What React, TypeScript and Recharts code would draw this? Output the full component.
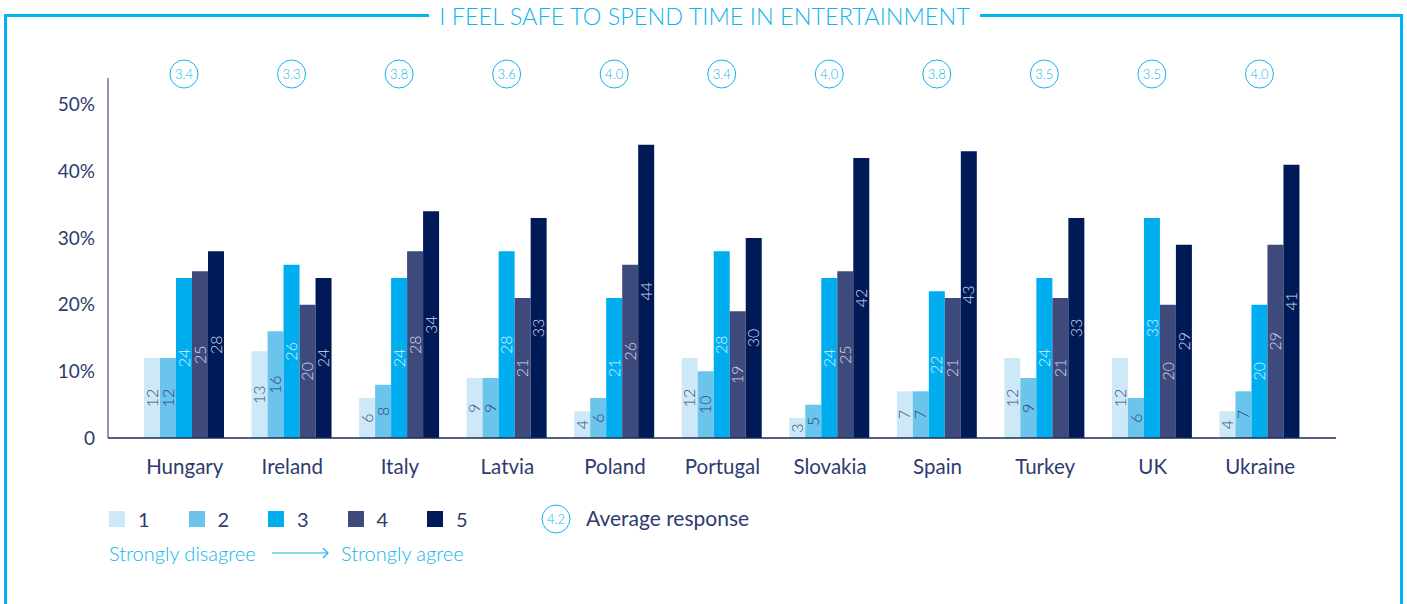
import React from 'react';
import { BarChart, Bar, XAxis, YAxis, LabelList } from 'recharts';

const countries = ['Hungary', 'Ireland', 'Italy', 'Latvia', 'Poland', 'Portugal', 'Slovakia', 'Spain', 'Turkey', 'UK', 'Ukraine'];
const r1 = [12, 13, 6, 9, 4, 12, 3, 7, 12, 12, 4];
const r2 = [12, 16, 8, 9, 6, 10, 5, 7, 9, 6, 7];
const r3 = [24, 26, 24, 28, 21, 28, 24, 22, 24, 33, 20];
const r4 = [25, 20, 28, 21, 26, 19, 25, 21, 21, 20, 29];
const r5 = [28, 24, 34, 33, 44, 30, 42, 43, 33, 29, 41];
const averages = [3.4, 3.3, 3.8, 3.6, 4.0, 3.4, 4.0, 3.8, 3.5, 3.5, 4.0];
const yTicks = [0, 10, 20, 30, 40, 50];

const SERIES = [
  { key: 'r1', name: '1', color: '#cde9f7', label: '#3f4a7c' },
  { key: 'r2', name: '2', color: '#6bc4ec', label: '#2f3f72' },
  { key: 'r3', name: '3', color: '#00aeef', label: '#d6f2ff' },
  { key: 'r4', name: '4', color: '#3f4a7c', label: '#d3d7e8' },
  { key: 'r5', name: '5', color: '#001a57', label: '#d3d9ec' },
];

const CYAN = '#10b4ec';
const NAVY = '#2e3b6e';
const FONT = 'Lato, "Open Sans", sans-serif';

const data = countries.map((c, i) => ({
  country: c,
  r1: r1[i],
  r2: r2[i],
  r3: r3[i],
  r4: r4[i],
  r5: r5[i],
  avg: averages[i],
}));

const AvgBubble = (props: any) => {
  const { x, width, value } = props;
  const cx = x + width / 2;
  return (
    <g>
      <circle cx={cx} cy={74} r={14} fill="none" stroke={CYAN} strokeWidth={1} />
      <text x={cx} y={74} dy="0.35em" textAnchor="middle" fill={CYAN} fontSize={13} fontFamily={FONT} fontWeight={300}>
        {Number(value).toFixed(1)}
      </text>
    </g>
  );
};

const line = (style: React.CSSProperties) => (
  <div style={{ position: 'absolute', background: '#00b4f0', ...style }} />
);

export default function App() {
  return (
    <div style={{ position: 'absolute', left: 0, top: 0, width: 1407, height: 604, background: '#fff', fontFamily: FONT, overflow: 'hidden' }}>
      {line({ left: 4, top: 14, width: 425, height: 3 })}
      {line({ left: 980, top: 14, width: 423, height: 3 })}
      {line({ left: 4, top: 14, width: 3, height: 590 })}
      {line({ left: 1400, top: 14, width: 3, height: 590 })}
      <div style={{ position: 'absolute', left: 429, width: 551, top: 1, textAlign: 'center', color: CYAN, fontSize: 23.5, fontWeight: 300, lineHeight: '30px' }}>
        I FEEL SAFE TO SPEND TIME IN ENTERTAINMENT
      </div>

      <div style={{ position: 'absolute', left: 0, top: 0 }}>
        <BarChart width={1407} height={604} data={data} margin={{ top: 78, right: 71, bottom: 0, left: 0 }} barCategoryGap={13} barGap={0}>
          <YAxis
            type="number"
            domain={[0, 54]}
            ticks={yTicks}
            width={108}
            tickSize={0}
            tickMargin={13}
            axisLine={{ stroke: '#6b7399', strokeWidth: 1.5 }}
            tickLine={false}
            tickFormatter={(v: number) => (v === 0 ? '0' : `${v}%`)}
            tick={{ fill: NAVY, fontSize: 19, fontFamily: FONT }}
          />
          <XAxis
            dataKey="country"
            height={166}
            tickSize={0}
            tickMargin={21}
            tickLine={false}
            padding={{ left: 23, right: 22 }}
            axisLine={{ stroke: '#1b2a5e', strokeWidth: 1.5 }}
            tick={{ fill: NAVY, fontSize: 20.5, fontFamily: FONT }}
            interval={0}
          />
          {SERIES.map((s) => (
            <Bar key={s.key} dataKey={s.key} fill={s.color} isAnimationActive={false}>
              <LabelList
                dataKey={s.key}
                position="center"
                angle={-90}
                fill={s.label}
                fontSize={16}
                fontFamily={FONT}
                fontWeight={300}
              />
              {s.key === 'r3' && <LabelList dataKey="avg" content={<AvgBubble />} />}
            </Bar>
          ))}
        </BarChart>
      </div>

      {SERIES.map((s, i) => (
        <React.Fragment key={s.key}>
          <div style={{ position: 'absolute', left: 109 + i * 79.5, top: 511, width: 16, height: 16, background: s.color }} />
          <div style={{ position: 'absolute', left: 138 + i * 79.5, top: 506, fontSize: 20, color: NAVY, lineHeight: '26px' }}>{s.name}</div>
        </React.Fragment>
      ))}
      <svg style={{ position: 'absolute', left: 540, top: 503 }} width={32} height={32}>
        <circle cx={16} cy={16} r={14} fill="none" stroke={CYAN} strokeWidth={1} />
        <text x={16} y={16} dy="0.35em" textAnchor="middle" fill={CYAN} fontSize={13} fontFamily={FONT} fontWeight={300}>4.2</text>
      </svg>
      <div style={{ position: 'absolute', left: 586, top: 505, fontSize: 21, color: NAVY, lineHeight: '26px' }}>Average response</div>
      <div style={{ position: 'absolute', left: 109, top: 540, fontSize: 20, color: CYAN, lineHeight: '26px', fontWeight: 300 }}>Strongly disagree</div>
      <svg style={{ position: 'absolute', left: 270, top: 546 }} width={62} height={14}>
        <line x1={2} y1={7} x2={58} y2={7} stroke={CYAN} strokeWidth={1.2} />
        <polyline points="53,2 58,7 53,12" fill="none" stroke={CYAN} strokeWidth={1.2} />
      </svg>
      <div style={{ position: 'absolute', left: 341, top: 540, fontSize: 20, color: CYAN, lineHeight: '26px', fontWeight: 300 }}>Strongly agree</div>
    </div>
  );
}
